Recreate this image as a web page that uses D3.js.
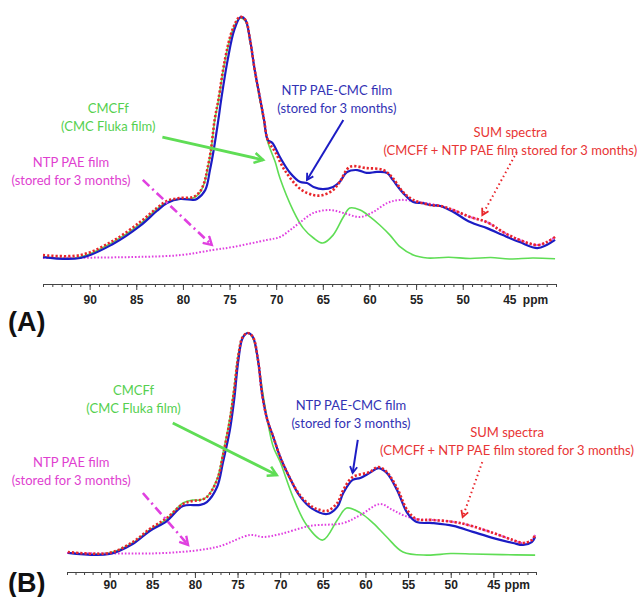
<!DOCTYPE html>
<html>
<head>
<meta charset="utf-8">
<script src="https://cdn.jsdelivr.net/npm/d3@7"></script>
<style>
  body { margin: 0; background: #fff; }
  svg { display: block; }
  .tick text { font-family: "Liberation Sans Narrow", "Arial Narrow", "Liberation Sans", sans-serif; font-weight: bold; font-size: 12px; fill: #222; }
  .note { font-family: Lato, "Open Sans", sans-serif; font-size: 13px; }
</style>
</head>
<body>
<div id="chart"></div>
<script>
const W = 640, H = 597;

const majorTicks = [90, 85, 80, 75, 70, 65, 60, 55, 50, 45];

// panel A: [ppm, intensity]
const cmcfA = [[95.0,0.4],[91.0,0.4],[87.5,6.6],[84.6,14.1],[82.8,20.3],[81.7,23.2],[80.3,24.5],[78.9,24.9],[78.2,27.0],[77.7,31.1],[77.4,36.1],[77.0,44.4],[76.6,56.8],[76.2,65.1],[75.5,81.7],[74.7,94.2],[73.9,99.6],[73.3,98.3],[72.8,90.0],[72.3,77.6],[71.7,64.7],[71.3,56.4],[70.9,48.1],[70.1,39.8],[69.6,33.2],[68.2,19.9],[67.1,12.4],[66.0,8.3],[65.0,6.2],[63.9,9.5],[62.8,17.0],[62.1,20.7],[61.0,19.9],[59.9,17.0],[58.9,13.7],[57.8,9.5],[56.7,4.6],[55.3,1.2],[53.8,0],[51.5,0.3],[49.2,-0.2],[47.0,0.2],[45.0,-0.4],[42.5,0],[40.1,-0.3]];
const paeA = [[95.0,0],[85.4,0.4],[80.3,1.2],[76.8,3.3],[74.6,4.6],[71.0,7.5],[69.6,8.7],[68.5,11.6],[67.4,14.9],[66.0,18.7],[64.2,19.9],[62.8,18.7],[61.0,17.0],[59.6,19.1],[58.1,22.8],[56.7,24.1],[54.6,23.2],[52.4,21.6],[51.0,19.9],[49.2,17.0],[47.4,14.9],[45.7,10.8],[43.9,7.5],[42.0,5.4],[41.0,6.6],[40.1,8.7]];
const blendA = [[95.0,0.4],[91.0,0],[87.5,5.8],[84.6,13.3],[82.8,19.5],[81.7,22.8],[80.3,24.5],[78.9,24.1],[78.5,24.5],[77.6,28.2],[77.1,36.5],[76.7,44.8],[76.2,57.3],[75.9,65.6],[75.2,82.2],[74.5,94.6],[73.8,100],[73.3,98.8],[72.8,90.5],[72.3,78.0],[71.7,65.6],[71.3,57.3],[70.9,49.0],[70.4,47.7],[69.6,41.9],[68.5,35.3],[67.4,31.5],[66.7,31.1],[66.0,29.5],[65.0,28.6],[63.9,29.5],[63.2,31.5],[62.4,35.7],[61.3,36.5],[60.3,35.3],[59.2,35.7],[58.1,35.3],[57.5,32.4],[56.4,27.0],[55.3,23.2],[54.3,22.8],[53.5,22.0],[52.4,21.6],[51.0,19.1],[49.2,14.9],[47.4,12.4],[45.7,9.5],[43.9,6.6],[42.0,4.1],[41.0,5.4],[40.1,7.5]];
const sumA = [[95.0,1.2],[91.0,1.2],[87.5,7.1],[84.6,14.9],[82.8,20.7],[81.7,23.7],[80.3,24.9],[78.9,25.3],[78.2,27.4],[77.7,31.5],[77.4,36.5],[77.0,44.8],[76.6,57.3],[76.2,65.6],[75.5,82.2],[74.7,94.6],[73.9,100],[73.3,98.8],[72.8,90.5],[72.3,78.0],[71.7,65.6],[71.3,57.3],[70.9,49.0],[70.1,44.0],[69.1,36.5],[67.4,28.6],[66.0,26.1],[65.0,26.1],[63.9,28.2],[63.2,31.5],[62.1,37.8],[60.3,37.3],[58.5,36.5],[57.5,33.2],[56.4,27.4],[55.3,24.1],[53.5,22.0],[52.4,21.6],[51.0,19.9],[49.2,17.0],[47.4,14.9],[45.7,10.8],[43.9,7.5],[42.0,5.4],[41.0,6.6],[40.1,8.7]];

// panel B: [ppm, intensity]
const cmcfB = [[94.9,0.5],[90.0,0.5],[87.3,5.0],[85.3,10.9],[83.3,15.8],[81.4,23.1],[80.2,24.4],[79.4,24.4],[78.6,25.8],[77.4,33.9],[76.7,45.7],[75.9,61.5],[75.4,75.1],[74.9,90.5],[74.4,98.2],[73.8,100],[73.2,97.7],[72.6,86.9],[72.0,71.9],[71.4,58.4],[70.8,48.4],[70.0,41.6],[68.5,25.8],[66.9,13.1],[65.0,6.3],[63.3,15.4],[62.2,20.8],[60.6,18.6],[59.1,14.0],[57.5,7.7],[55.6,0.9],[52.8,-0.5],[50.0,0.2],[47.4,0],[44.0,-0.3],[40.1,-0.5]];
const paeB = [[95.0,0.5],[83.3,0.5],[77.4,3.2],[73.5,8.6],[72.0,7.7],[70.0,9.0],[66.5,12.7],[62.6,14.0],[60.6,17.6],[58.3,22.6],[56.8,19.9],[55.6,17.6],[54.0,15.8],[52.1,15.4],[48.9,14.0],[45.0,9.5],[42.7,6.3],[41.5,5.0],[40.5,6.3],[40.1,8.6]];
const blendB = [[94.9,0.5],[90.0,0],[87.3,4.5],[85.3,10.4],[83.3,14.9],[81.4,21.7],[79.4,22.2],[78.6,23.5],[77.4,30.3],[76.7,41.6],[75.9,56.1],[75.4,69.7],[74.9,87.8],[74.4,97.7],[73.8,100],[73.2,98.2],[72.6,87.8],[72.1,71.9],[71.5,60.6],[70.8,52.9],[70.0,43.9],[69.1,36.2],[67.7,26.2],[66.2,20.4],[64.5,18.1],[63.3,21.3],[62.6,27.6],[61.5,33.5],[60.6,34.4],[59.5,36.7],[58.5,38.9],[57.5,36.7],[56.3,29.0],[55.1,18.6],[54.0,14.5],[52.1,14.0],[49.7,12.7],[47.4,10.0],[45.0,7.2],[42.7,5.0],[41.5,4.1],[40.5,5.4],[40.1,7.7]];
const sumB = [[94.9,0.9],[90.0,0.5],[87.3,5.4],[85.3,11.3],[83.3,16.3],[81.4,22.6],[80.2,24.0],[79.4,24.4],[78.6,25.8],[77.4,33.5],[76.7,44.8],[75.9,60.6],[75.4,74.2],[74.9,90.0],[74.4,98.2],[73.8,100],[73.2,98.2],[72.6,87.8],[72.1,71.9],[71.5,60.6],[70.8,52.9],[70.0,43.9],[69.1,36.2],[67.7,26.7],[66.2,21.3],[65.3,19.9],[64.5,19.5],[63.3,23.1],[62.6,29.0],[61.5,34.8],[59.5,37.1],[58.5,39.4],[57.5,37.1],[56.3,29.9],[55.1,19.9],[54.0,15.8],[52.1,15.4],[48.9,14.0],[45.0,9.5],[42.7,6.3],[41.5,5.0],[40.5,6.3],[40.1,8.6]];

const colors = {green: "#5fdd55", magenta: "#e040e0", blue: "#1c1cc4", red: "#e8262b"};
const textColors = {green: "#55d04f", magenta: "#e03fd0", blue: "#3232b4", red: "#e83535"};

const panels = [
  {
    name: "(A)", xRange: [43, 556], yRange: [258, 17], axisY: 284, pad: 5, labelY: 322,
    series: [cmcfA, paeA, blendA, sumA],
    notes: [
      {c: "green", at: [88.0, 62.2], lines: ["CMCFf", "(CMC Fluka film)"]},
      {c: "magenta", at: [92.0, 39.8], lines: ["NTP PAE film", "(stored for 3 months)"]},
      {c: "blue", at: [63.5, 69.7], lines: ["NTP PAE-CMC film", "(stored for 3 months)"]},
      {c: "red", at: [44.9, 52.3], lines: ["SUM spectra", "(CMCFf + NTP PAE film stored for 3 months)"]}
    ],
    arrows: [
      {c: "green", from: [82.2, 50.2], to: [71.4, 40.7], style: "solid"},
      {c: "magenta", from: [84.3, 32.4], to: [76.9, 5.4], style: "dashdot"},
      {c: "blue", from: [62.8, 57.3], to: [66.7, 32.4], style: "solid"},
      {c: "red", from: [44.2, 44.0], to: [47.9, 17.8], style: "dot"}
    ]
  },
  {
    name: "(B)", xRange: [67, 536], yRange: [554, 333], axisY: 572, pad: 2, labelY: 583,
    series: [cmcfB, paeB, blendB, sumB],
    notes: [
      {c: "green", at: [87.2, 74.2], lines: ["CMCFf", "(CMC Fluka film)"]},
      {c: "magenta", at: [94.5, 41.6], lines: ["NTP PAE film", "(stored for 3 months)"]},
      {c: "blue", at: [61.7, 67.0], lines: ["NTP PAE-CMC film", "(stored for 3 months)"]},
      {c: "red", at: [43.4, 54.8], lines: ["SUM spectra", "(CMCFf + NTP PAE film stored for 3 months)"]}
    ],
    arrows: [
      {c: "green", from: [82.6, 59.3], to: [70.4, 35.7], style: "solid"},
      {c: "magenta", from: [86.1, 27.6], to: [80.8, 4.1], style: "dashdot"},
      {c: "blue", from: [60.9, 51.6], to: [61.5, 36.7], style: "solid"},
      {c: "red", from: [46.3, 41.6], to: [48.6, 16.7], style: "dot"}
    ]
  }
];

const seriesStyle = [
  {c: "green", w: 1.6, dash: null},
  {c: "magenta", w: 2, dash: "1.6,1.8"},
  {c: "blue", w: 2.2, dash: null},
  {c: "red", w: 2.6, dash: "2.2,2"}
];

const svg = d3.select("#chart").append("svg").attr("width", W).attr("height", H);

const defs = svg.append("defs");
Object.keys(colors).forEach(k => {
  defs.append("marker")
    .attr("id", "head-" + k)
    .attr("viewBox", "0 0 10 10")
    .attr("refX", 8).attr("refY", 5)
    .attr("markerWidth", 4.5).attr("markerHeight", 4.5)
    .attr("markerUnits", "strokeWidth")
    .attr("orient", "auto")
    .append("path")
    .attr("d", "M1,1 L8,5 L1,9")
    .attr("fill", "none")
    .attr("stroke", colors[k])
    .attr("stroke-width", 2);
});

panels.forEach(p => {
  const x = d3.scaleLinear().domain([95, 40]).range(p.xRange);
  const y = d3.scaleLinear().domain([0, 100]).range(p.yRange);
  const g = svg.append("g");

  // axis: minor ticks then labelled ticks
  g.append("g")
    .attr("transform", `translate(0,${p.axisY})`)
    .call(d3.axisBottom(x).tickValues(d3.range(40, 96)).tickSize(3).tickFormat(""))
    .call(a => a.selectAll("line,path").attr("stroke", "#444"));
  g.append("g")
    .attr("transform", `translate(0,${p.axisY})`)
    .call(d3.axisBottom(x).tickValues(majorTicks).tickSize(6).tickPadding(p.pad))
    .call(a => a.select(".domain").remove())
    .call(a => a.selectAll("line").attr("stroke", "#444"));
  g.append("text")
    .attr("x", x(42.2)).attr("y", p.axisY + 6 + p.pad)
    .attr("dy", "0.71em")
    .attr("text-anchor", "middle")
    .style("font-family", '"Liberation Sans Narrow", "Arial Narrow", sans-serif')
    .style("font-weight", "bold").style("font-size", "12px").style("fill", "#222")
    .text("ppm");

  // spectra
  const line = d3.line().x(d => x(d[0])).y(d => y(d[1])).curve(d3.curveCatmullRom.alpha(0.5));
  p.series.forEach((s, i) => {
    const st = seriesStyle[i];
    g.append("path")
      .datum(s)
      .attr("d", line)
      .attr("fill", "none")
      .attr("stroke", colors[st.c])
      .attr("stroke-width", st.w)
      .attr("stroke-dasharray", st.dash)
      .attr("stroke-linejoin", "round");
  });

  // arrows
  p.arrows.forEach(a => {
    const dash = a.style === "dashdot" ? "9,4,2,4" : a.style === "dot" ? "1.5,3" : null;
    g.append("line")
      .attr("x1", x(a.from[0])).attr("y1", y(a.from[1]))
      .attr("x2", x(a.to[0])).attr("y2", y(a.to[1]))
      .attr("stroke", colors[a.c])
      .attr("stroke-width", a.c === "green" ? 2.8 : a.c === "magenta" ? 2.6 : 2)
      .attr("stroke-dasharray", dash)
      .attr("marker-end", `url(#head-${a.c})`);
  });

  // notes
  p.notes.forEach(n => {
    const t = g.append("text")
      .attr("class", "note")
      .attr("text-anchor", "middle")
      .style("fill", textColors[n.c]);
    n.lines.forEach((l, i) => {
      t.append("tspan")
        .attr("x", x(n.at[0]))
        .attr("y", y(n.at[1]) + i * 18)
        .attr("dy", "0.35em")
        .text(l);
    });
  });

  g.append("text")
    .attr("x", 8).attr("y", p.labelY)
    .attr("dy", "0.35em")
    .style("font-family", '"Liberation Sans", Arial, sans-serif')
    .style("font-weight", "bold").style("font-size", "27px").style("fill", "#111")
    .text(p.name);
});
</script>
</body>
</html>
